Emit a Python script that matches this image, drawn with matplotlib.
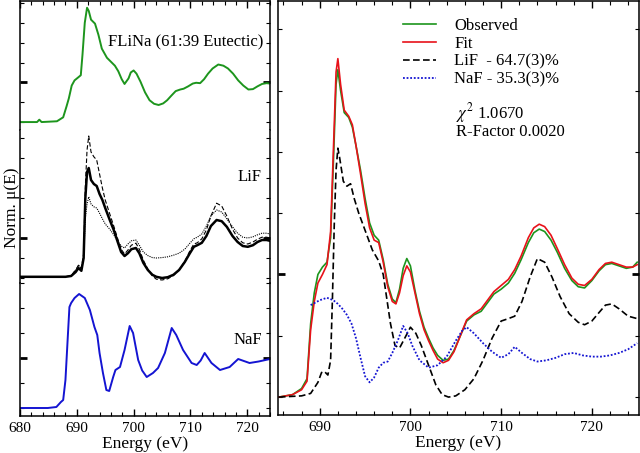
import matplotlib
matplotlib.use("Agg")
import matplotlib.pyplot as plt
from matplotlib.ticker import MultipleLocator, FixedLocator

plt.rcParams['font.family'] = ['Liberation Serif', 'DejaVu Serif']
plt.rcParams['mathtext.fontset'] = 'stix'

# ---- left panel: reference spectra ----
e_flina = [680.0, 683.0, 683.4, 683.8, 686.5, 687.6, 688.2, 688.6, 689.1, 689.6, 690.2, 690.7,
           691.0, 691.4, 691.8, 692.1, 692.5, 693.2, 693.8, 694.4, 695.3, 696.0, 696.7, 697.3,
           697.9, 698.4, 699.1, 699.5, 700.0, 700.5, 701.2, 702.0, 702.8, 703.6, 704.4, 705.2,
           705.9, 706.6, 707.4, 708.2, 708.8, 709.6, 710.4, 711.0, 711.7, 712.4, 713.1, 713.9,
           714.9, 715.8, 716.6, 717.5, 718.4, 719.3, 720.2, 721.0, 721.8, 722.6, 723.4, 724.0]
mu_flina = [0.0, 0.0, 0.06, 0.0, 0.02, 0.12, 0.40, 0.60, 0.92, 1.05, 1.12, 1.18,
            1.70, 2.50, 2.88, 2.80, 2.58, 2.48, 2.20, 1.85, 1.62, 1.52, 1.42, 1.28,
            1.08, 0.96, 1.10, 1.25, 1.30, 1.22, 1.02, 0.75, 0.55, 0.46, 0.43, 0.47,
            0.55, 0.66, 0.78, 0.82, 0.84, 0.90, 0.97, 0.99, 0.98, 1.08, 1.22, 1.35,
            1.45, 1.42, 1.35, 1.22, 1.05, 0.92, 0.82, 0.83, 0.90, 0.96, 0.98, 0.97]

e_lif = [680.0, 688.0, 689.0, 689.8, 690.3, 690.8, 691.2, 691.5, 691.8, 692.1, 692.5, 693.0,
         693.5, 694.0, 694.5, 695.0, 695.8, 696.5, 697.2, 697.8, 698.4, 699.0, 699.6, 700.4,
         701.0, 701.7, 702.5, 703.3, 704.0, 705.0, 706.0, 707.0, 708.0, 709.0, 709.9, 710.6,
         711.2, 712.0, 712.8, 713.6, 714.6, 715.5, 716.4, 717.4, 718.3, 719.2, 720.1, 721.0,
         721.8, 722.6, 723.4, 724.0]
mu_lif_a = [0.03, 0.03, 0.05, 0.15, 0.25, 0.18, 0.50, 2.00, 2.65, 2.75, 2.45, 2.35,
            2.30, 2.10, 1.95, 1.75, 1.45, 1.20, 0.90, 0.65, 0.55, 0.62, 0.72, 0.75,
            0.62, 0.38, 0.20, 0.08, 0.03, 0.00, 0.02, 0.08, 0.20, 0.40, 0.62, 0.78,
            0.82, 0.88, 1.05, 1.30, 1.45, 1.42, 1.28, 1.05, 0.90, 0.80, 0.78, 0.82,
            0.90, 0.95, 0.95, 0.93]
mu_lif_b = [0.03, 0.03, 0.06, 0.20, 0.32, 0.25, 0.60, 2.30, 3.20, 3.55, 3.15, 3.03,
            2.95, 2.60, 2.25, 1.95, 1.60, 1.30, 0.98, 0.72, 0.60, 0.70, 0.82, 0.87,
            0.72, 0.45, 0.22, 0.05, -0.03, -0.05, -0.02, 0.06, 0.20, 0.42, 0.68, 0.85,
            0.88, 0.98, 1.20, 1.55, 1.87, 1.80, 1.55, 1.22, 1.00, 0.88, 0.85, 0.90,
            0.97, 1.02, 1.02, 1.00]
mu_lif_c = [0.03, 0.03, 0.06, 0.20, 0.32, 0.25, 0.50, 1.50, 1.85, 2.03, 1.85, 1.78,
            1.75, 1.62, 1.48, 1.35, 1.22, 1.08, 0.92, 0.80, 0.75, 0.85, 0.93, 0.95,
            0.82, 0.65, 0.56, 0.51, 0.50, 0.51, 0.53, 0.57, 0.62, 0.72, 0.87, 0.98,
            1.02, 1.10, 1.30, 1.55, 1.70, 1.65, 1.48, 1.28, 1.12, 1.02, 1.00, 1.03,
            1.08, 1.12, 1.12, 1.10]

e_naf = [680.0, 684.9, 686.4, 687.2, 687.6, 688.0, 688.4, 688.7, 689.0, 689.6, 690.4, 691.4,
         692.3, 693.1, 693.6, 694.0, 694.6, 695.2, 695.7, 696.4, 696.8, 697.6, 698.4, 699.3,
         699.9, 700.8, 701.5, 702.3, 703.4, 704.3, 705.5, 706.7, 707.5, 708.7, 710.2, 711.1,
         711.8, 712.5, 713.7, 715.2, 716.9, 718.4, 720.4, 722.0, 724.0]
mu_naf = [0.0, 0.0, 0.02, 0.12, 0.16, 0.56, 1.40, 2.02, 2.10, 2.20, 2.28, 2.20,
          1.96, 1.62, 1.46, 1.10, 0.70, 0.36, 0.34, 0.62, 0.76, 0.82, 1.16, 1.64,
          1.50, 0.96, 0.75, 0.62, 0.70, 0.80, 1.10, 1.60, 1.46, 1.16, 0.90, 0.86,
          0.95, 1.10, 0.90, 0.76, 0.82, 0.98, 0.90, 0.93, 0.98]

# ---- right panel: linear combination fit ----
e_fit = [685.5, 687.0, 688.0, 688.6, 689.0, 689.4, 689.8, 690.3, 690.8, 691.2, 691.5, 691.8,
         692.0, 692.3, 692.7, 693.2, 693.6, 694.0, 694.5, 695.0, 695.5, 696.0, 696.5, 697.0,
         697.5, 698.0, 698.4, 698.8, 699.2, 699.6, 700.0, 700.5, 701.0, 701.5, 702.0, 702.5,
         703.0, 703.6, 704.2, 704.8, 705.5, 706.2, 707.0, 707.8, 708.5, 709.2, 710.0, 710.8,
         711.5, 712.2, 713.0, 713.6, 714.2, 714.8, 715.5, 716.2, 717.0, 717.8, 718.5, 719.2,
         720.0, 720.8, 721.5, 722.2, 723.0, 723.8, 724.5, 725.0]
observed = [0.00, 0.02, 0.07, 0.15, 0.60, 0.85, 1.00, 1.06, 1.10, 1.30, 1.90, 2.55,
            2.67, 2.50, 2.32, 2.28, 2.20, 2.05, 1.85, 1.62, 1.42, 1.32, 1.28, 1.12,
            0.92, 0.80, 0.77, 0.88, 1.05, 1.13, 1.07, 0.87, 0.70, 0.57, 0.48, 0.40,
            0.34, 0.30, 0.31, 0.38, 0.50, 0.62, 0.67, 0.70, 0.77, 0.84, 0.88, 0.93,
            1.01, 1.12, 1.26, 1.34, 1.37, 1.35, 1.28, 1.18, 1.05, 0.95, 0.90, 0.89,
            0.95, 1.03, 1.08, 1.09, 1.07, 1.05, 1.06, 1.10]
fit = [0.00, 0.02, 0.06, 0.13, 0.55, 0.78, 0.93, 1.00, 1.08, 1.35, 2.00, 2.65,
       2.76, 2.55, 2.34, 2.29, 2.22, 2.05, 1.82, 1.58, 1.38, 1.28, 1.26, 1.10,
       0.90, 0.78, 0.76, 0.85, 0.99, 1.07, 1.02, 0.85, 0.68, 0.55, 0.46, 0.38,
       0.31, 0.28, 0.30, 0.37, 0.50, 0.63, 0.68, 0.72, 0.79, 0.86, 0.91, 0.96,
       1.04, 1.15, 1.30, 1.38, 1.41, 1.39, 1.32, 1.21, 1.08, 0.97, 0.92, 0.91,
       0.96, 1.04, 1.09, 1.10, 1.08, 1.06, 1.06, 1.08]

e_lif_part = [685.5, 688.0, 689.0, 689.8, 690.2, 690.5, 690.9, 691.2, 691.4, 691.6, 691.8, 692.0,
              692.2, 692.6, 693.0, 693.4, 693.8, 694.3, 695.0, 695.8, 696.5, 697.0, 697.4, 697.8,
              698.3, 698.8, 699.3, 700.0, 700.6, 701.2, 702.0, 702.8, 703.5, 704.2, 705.0, 706.0,
              707.0, 708.0, 709.0, 710.0, 710.8, 711.5, 712.3, 713.2, 714.0, 714.8, 715.6, 716.5,
              717.5, 718.5, 719.2, 720.0, 720.8, 721.5, 722.2, 723.0, 724.0, 725.0]
lif_part = [0.00, 0.01, 0.03, 0.12, 0.20, 0.21, 0.18, 0.30, 0.80, 1.40, 1.85, 2.03,
            1.95, 1.76, 1.72, 1.74, 1.62, 1.50, 1.36, 1.20, 1.11, 1.00, 0.80, 0.60,
            0.42, 0.40, 0.47, 0.57, 0.52, 0.42, 0.26, 0.10, 0.02, 0.00, 0.01, 0.06,
            0.15, 0.30, 0.48, 0.62, 0.64, 0.66, 0.78, 0.98, 1.13, 1.10, 0.98, 0.82,
            0.68, 0.61, 0.59, 0.62, 0.69, 0.75, 0.76, 0.72, 0.66, 0.64]

e_naf_part = [689.0, 689.5, 690.0, 690.8, 691.5, 692.0, 692.5, 693.0, 693.5, 694.0, 694.5, 695.0,
              695.5, 696.0, 696.5, 697.0, 697.5, 698.0, 698.6, 699.2, 699.7, 700.2, 701.0, 702.0,
              703.0, 704.0, 705.0, 705.7, 706.2, 707.0, 708.0, 709.0, 710.0, 710.8, 711.5, 712.3,
              713.2, 714.0, 715.0, 716.0, 717.0, 718.0, 719.0, 720.0, 721.0, 722.0, 723.0, 724.0,
              725.0]
naf_part = [0.75, 0.77, 0.79, 0.81, 0.79, 0.76, 0.72, 0.67, 0.60, 0.48, 0.32, 0.17,
            0.12, 0.16, 0.24, 0.28, 0.29, 0.36, 0.46, 0.58, 0.52, 0.42, 0.30, 0.24,
            0.26, 0.33, 0.46, 0.54, 0.57, 0.52, 0.44, 0.37, 0.32, 0.35, 0.41, 0.36,
            0.31, 0.29, 0.30, 0.32, 0.35, 0.36, 0.34, 0.33, 0.33, 0.34, 0.36, 0.39,
            0.44]

green = '#1d951d'
red = '#e8121a'
blue = '#1414d2'

fig = plt.figure(figsize=(6.4, 4.53), dpi=100)
H = 453.0
x0, w = 20 / 640, 250 / 640


def frac(top, bot):
    return 1 - bot / H, (bot - top) / H


def style_y(ax, minor_step):
    ax.yaxis.set_major_locator(FixedLocator([1.0]))
    ax.yaxis.set_minor_locator(MultipleLocator(minor_step))
    ax.tick_params(axis='y', which='both', direction='in', left=True, right=True, labelleft=False)
    ax.tick_params(axis='y', which='major', length=5, width=2)
    ax.tick_params(axis='y', which='minor', length=3, width=0.8)


def style_x(ax, top, bottom):
    ax.xaxis.set_major_locator(MultipleLocator(10))
    ax.xaxis.set_minor_locator(MultipleLocator(2))
    ax.tick_params(axis='x', which='both', direction='in', top=top, bottom=bottom,
                   labelbottom=bottom, labelsize=11, pad=4)
    ax.tick_params(axis='x', which='major', length=5, width=1)
    ax.tick_params(axis='x', which='minor', length=3, width=0.8)


# top: FLiNa
b, h = frac(1, 130)
ax1 = fig.add_axes([x0, b, w, h])
ax1.plot(e_flina, mu_flina, color=green, lw=1.4)
ax1.set_ylim(-0.2, 3.05)
ax1.spines['bottom'].set_visible(False)
style_y(ax1, 0.5)
style_x(ax1, True, False)
ax1.text(0.972, 0.677, 'FLiNa (61:39 Eutectic)', transform=ax1.transAxes,
         ha='right', va='center', fontsize=12)

# middle: LiF
b, h = frac(130, 283)
ax2 = fig.add_axes([x0, b, w, h], sharex=ax1)
ax2.plot(e_lif, mu_lif_b, color='black', lw=0.8, ls=(0, (4, 2)))
ax2.plot(e_lif, mu_lif_c, color='black', lw=0.8, ls=(0, (1, 1)))
ax2.plot(e_lif, mu_lif_a, color='black', lw=1.8)
ax2.set_ylim(-0.125, 3.7)
ax2.spines['top'].set_visible(False)
ax2.spines['bottom'].set_visible(False)
style_y(ax2, 0.5)
style_x(ax2, False, False)
ax2.text(0.968, 0.69, 'LiF', transform=ax2.transAxes, ha='right', va='center', fontsize=12)

# bottom: NaF
b, h = frac(283, 416)
ax3 = fig.add_axes([x0, b, w, h], sharex=ax1)
ax3.plot(e_naf, mu_naf, color=blue, lw=1.4)
ax3.set_ylim(-0.16, 2.5)
ax3.spines['top'].set_visible(False)
style_y(ax3, 0.5)
style_x(ax3, False, True)
ax3.set_xlim(680, 724)
ax3.set_xlabel('Energy (eV)', fontsize=12.5, labelpad=1)
ax3.text(0.968, 0.57, 'NaF', transform=ax3.transAxes, ha='right', va='center', fontsize=12)

fig.text(0.018, 1 - 208 / H, 'Norm. \u03bc(E)', rotation=90, ha='center', va='center', fontsize=12.5)

# right panel
b, h = frac(1, 415)
ax4 = fig.add_axes([278 / 640, b, 361 / 640, h])
ax4.plot(e_fit, observed, color=green, lw=1.2, label='Observed')
ax4.plot(e_fit, fit, color=red, lw=1.2, label='Fit')
ax4.plot(e_lif_part, lif_part, color='black', lw=1.2, ls=(0, (4, 2)), label='LiF  - 64.7(3)%')
ax4.plot(e_naf_part, naf_part, color=blue, lw=1.3, ls=(0, (1, 1)), label='NaF - 35.3(3)%')
ax4.set_xlim(685.4, 725.2)
ax4.set_ylim(-0.146, 3.23)
style_y(ax4, 0.5)
style_x(ax4, True, True)
ax4.set_xlabel('Energy (eV)', fontsize=12.5, labelpad=1)
ax4.legend(loc='upper left', bbox_to_anchor=(0.345, 0.96), frameon=False, fontsize=12,
           handlelength=2.0, handletextpad=1.1, labelspacing=0.12, borderpad=0, borderaxespad=0)
ax4.text(0.492, 0.73, r'$\chi^2$ 1.0670', transform=ax4.transAxes, ha='left', va='center', fontsize=12)
ax4.text(0.492, 0.684, 'R-Factor 0.0020', transform=ax4.transAxes, ha='left', va='center', fontsize=12)

for ax in (ax1, ax2, ax3, ax4):
    for s in ax.spines.values():
        s.set_linewidth(1.1)

fig.savefig('out.png', dpi=100)
